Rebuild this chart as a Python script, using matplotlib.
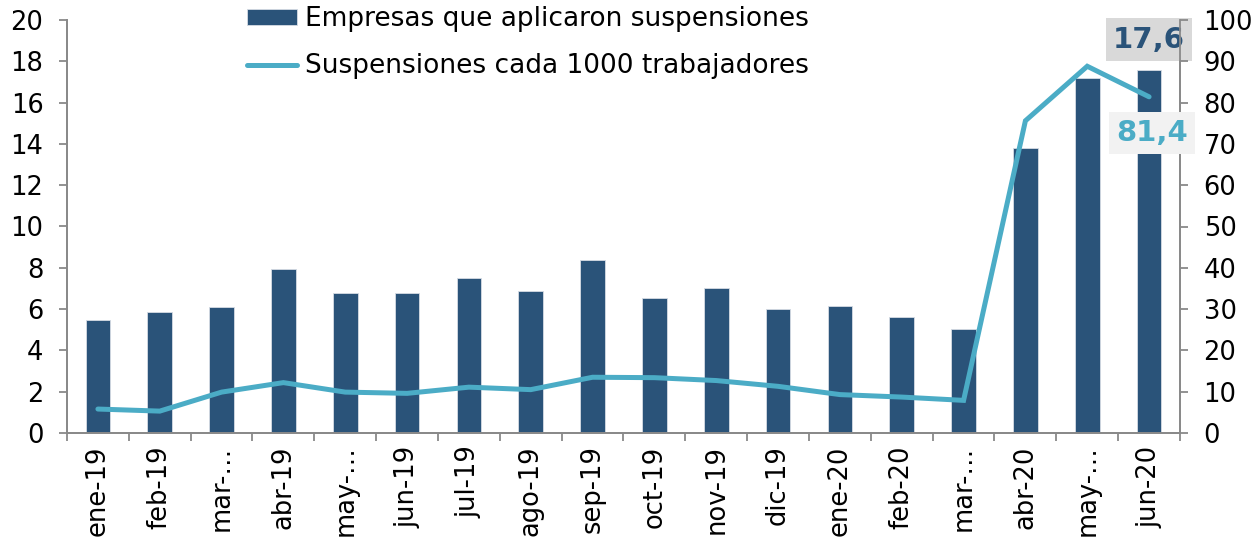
import matplotlib
matplotlib.use("Agg")
import matplotlib.pyplot as plt
import numpy as np

plt.rcParams['font.family'] = ['DejaVu Sans']

months = ['ene-19', 'feb-19', 'mar-…', 'abr-19', 'may-…', 'jun-19', 'jul-19', 'ago-19',
          'sep-19', 'oct-19', 'nov-19', 'dic-19', 'ene-20', 'feb-20', 'mar-…', 'abr-20',
          'may-…', 'jun-20']
empresas = [5.45, 5.84, 6.08, 7.93, 6.76, 6.76, 7.52, 6.89, 8.38, 6.52, 7.04, 6.0,
            6.13, 5.63, 5.06, 13.79, 17.18, 17.6]
susp_1000 = [5.8, 5.3, 9.9, 12.2, 9.9, 9.6, 11.1, 10.5, 13.5, 13.4, 12.7, 11.3,
             9.3, 8.7, 7.9, 75.6, 88.8, 81.4]
label_bar = 'Empresas que aplicaron suspensiones'
label_line = 'Suspensiones cada 1000 trabajadores'

bar_color = '#2A5379'
line_color = '#4BACC6'
spine_color = '#898989'

fig = plt.figure(figsize=(12.56, 5.44), dpi=100)
ax = fig.add_axes([67/1256, 1-433/544, (1180-67)/1256, (433-20)/544])
ax2 = ax.twinx()

x = np.arange(len(months))
bars = ax.bar(x, empresas, width=0.4, color=bar_color, edgecolor='#D6DCE4', linewidth=0.6,
              label=label_bar, zorder=2)
line, = ax2.plot(x, susp_1000, color=line_color, lw=3.6, solid_capstyle='round',
                 solid_joinstyle='miter', label=label_line, zorder=3)

ax.set_xlim(-0.5, len(months) - 0.5)
ax.set_ylim(0, 20)
ax2.set_ylim(0, 100)
ax.set_yticks(np.arange(0, 21, 2))
ax2.set_yticks(np.arange(0, 101, 10))

ax.set_xticks(x)
ax.set_xticklabels(months, rotation=90, va='top', ha='center', fontsize=18.5)
ax.tick_params(axis='x', which='major', length=0, pad=9)
ax.set_xticks(np.arange(-0.5, len(months), 1.0), minor=True)
ax.tick_params(axis='x', which='minor', length=6, width=1.3, color=spine_color)

for a in (ax, ax2):
    a.tick_params(axis='y', labelsize=18.5, length=6, width=1.3, color=spine_color, pad=11)
    for s in a.spines.values():
        s.set_color(spine_color)
        s.set_linewidth(1.3)
    a.spines['top'].set_visible(False)

ax.annotate('17,6', xy=(x[-1], empresas[-1]), xytext=(0, 30), textcoords='offset pixels',
            ha='center', va='center', fontsize=21, fontweight='bold', color=bar_color,
            bbox=dict(boxstyle='square,pad=0.25', facecolor='#D9D9D9', edgecolor='none'),
            zorder=10, annotation_clip=False)
ax2.annotate('81,4', xy=(x[-1], susp_1000[-1]), xytext=(3, -36), textcoords='offset pixels',
             ha='center', va='center', fontsize=21, fontweight='bold', color=line_color,
             bbox=dict(boxstyle='square,pad=0.25', facecolor='#F2F2F2', edgecolor='none'),
             zorder=10, annotation_clip=False)

fig.legend([bars, line], [label_bar, label_line], loc='upper left',
           bbox_to_anchor=(0.188, 1.008), frameon=False, fontsize=19,
           handlelength=1.9, handleheight=0.55, handletextpad=0.3, labelspacing=0.8,
           borderaxespad=0)

fig.savefig('out.png', dpi=100)
